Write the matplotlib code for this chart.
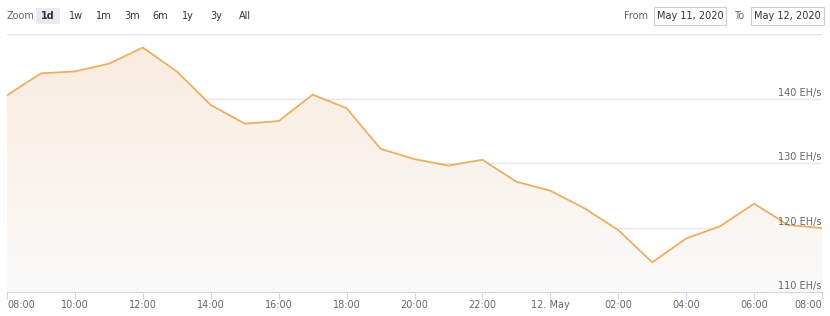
import numpy as np
import matplotlib
matplotlib.use("Agg")
import matplotlib.pyplot as plt
from matplotlib.patches import Rectangle

# Hourly hash rate, 11 May 2020 08:00 -> 12 May 2020 08:00
hours = list(range(25))
hashrate = [140.5, 143.9, 144.2, 145.4, 147.9, 144.2, 139.0, 136.1, 136.5, 140.6,
            138.5, 132.2, 130.6, 129.6, 130.5, 127.1, 125.7, 123.0, 119.6, 114.6,
            118.3, 120.2, 123.7, 120.4, 119.9]

tick_hours = [0, 2, 4, 6, 8, 10, 12, 14, 16, 18, 20, 22, 24]
tick_labels = ["08:00", "10:00", "12:00", "14:00", "16:00", "18:00", "20:00",
               "22:00", "12. May", "02:00", "04:00", "06:00", "08:00"]
y_ticks = [110, 120, 130, 140, 150]
zoom_buttons = ["1d", "1w", "1m", "3m", "6m", "1y", "3y", "All"]

line_color = "#eeae62"
text_color = "#666666"
axis_color = "#ccd6eb"

W, H = 830, 316
fig = plt.figure(figsize=(W / 100, H / 100), dpi=100)
plt.rcParams["font.family"] = ["DejaVu Sans"]

ax = fig.add_axes([7 / W, (H - 292) / H, 815 / W, 258 / H])
ax.set_xlim(0, 24)
ax.set_ylim(110, 150)

# gridlines
for v in y_ticks:
    ax.axhline(v, color="#e6e6e6", lw=1, zorder=0)

# gradient fill under the line
poly = ax.fill_between(hours, hashrate, 110, color="none", lw=0)
grad = np.linspace(0, 1, 256).reshape(-1, 1)
c_top = np.array([249, 236, 224]) / 255
c_bot = np.array([250, 250, 250]) / 255
img = (c_bot + (c_top - c_bot) * grad).reshape(256, 1, 3)
im = ax.imshow(img, extent=[0, 24, 110, 148], origin="lower", aspect="auto", zorder=1)
im.set_clip_path(poly.get_paths()[0], transform=ax.transData)

ax.plot(hours, hashrate, color=line_color, lw=1.3, zorder=3, solid_joinstyle="round")

# y labels (inside plot, right side, just above gridline)
for v in y_ticks[:-1]:
    ax.text(23.98, v + 0.15, f"{v} EH/s", ha="right", va="bottom",
            fontsize=7, color=text_color, zorder=4)

for s in ["top", "left", "right"]:
    ax.spines[s].set_visible(False)
ax.spines["bottom"].set_color(axis_color)
ax.set_yticks([])
ax.set_xticks(tick_hours)
ax.set_xticklabels(tick_labels, fontsize=7, color=text_color)
ax.tick_params(axis="x", length=5, color=axis_color, pad=1)
labels = ax.get_xticklabels()
labels[0].set_horizontalalignment("left")
labels[-1].set_horizontalalignment("right")

# top toolbar (range selector)
fig.text(7 / W, 1 - 16 / H, "Zoom", fontsize=7, color=text_color, va="center")
centers = [48, 76, 104, 132, 160, 188, 216, 245]
for i, (lab, cx) in enumerate(zip(zoom_buttons, centers)):
    if i == 0:
        fig.patches.append(Rectangle(((cx - 12) / W, 1 - 24 / H), 24 / W, 16 / H,
                                     transform=fig.transFigure, facecolor="#e6ebf5",
                                     edgecolor="none"))
    fig.text(cx / W, 1 - 16 / H, lab, fontsize=7, color="#333333",
             ha="center", va="center", fontweight="bold" if i == 0 else "normal")

fig.text(648 / W, 1 - 16 / H, "From", fontsize=7, color=text_color, ha="right", va="center")
fig.text(744 / W, 1 - 16 / H, "To", fontsize=7, color=text_color, ha="right", va="center")
for x0, x1, txt in [(654, 726, "May 11, 2020"), (751, 824, "May 12, 2020")]:
    fig.patches.append(Rectangle((x0 / W, 1 - 25 / H), (x1 - x0) / W, 18 / H,
                                 transform=fig.transFigure, facecolor="white",
                                 edgecolor="#cccccc", lw=0.8))
    fig.text((x0 + x1) / 2 / W, 1 - 16 / H, txt, fontsize=7, color="#333333",
             ha="center", va="center")

fig.savefig("out.png", dpi=100)
